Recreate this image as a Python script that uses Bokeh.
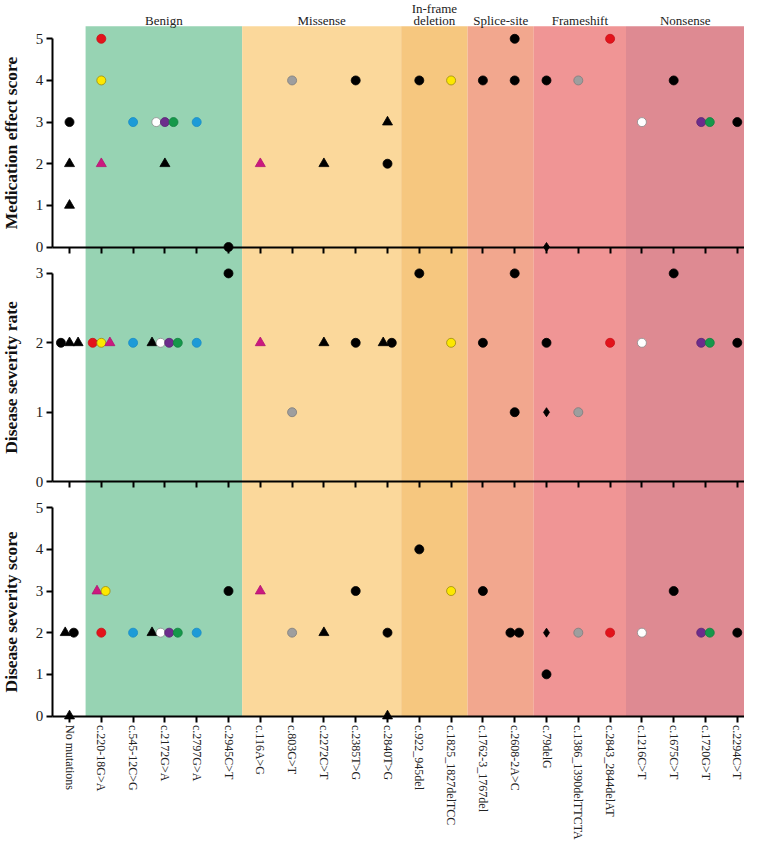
from bokeh.plotting import figure
from bokeh.models import Range1d, FixedTicker, ColumnDataSource, LinearAxis
from bokeh.embed import file_html
from bokeh.resources import INLINE
from bokeh.core.properties import value

# ---------------- data ----------------
categories = ["No mutations", "c.220-18G>A", "c.545-12C>G", "c.2172G>A", "c.2797G>A",
              "c.2945C>T", "c.116A>G", "c.803G>T", "c.2272C>T", "c.2385T>G", "c.2840T>G",
              "c.922_945del", "c.1825_1827delTCC", "c.1762-3_1767del", "c.2608-2A>C",
              "c.79delG", "c.1386_1390delTTCTA", "c.2843_2844delAT", "c.1216C>T",
              "c.1675C>T", "c.1720G>T", "c.2294C>T"]

groups = ["Benign", "Missense", "In-frame\ndeletion", "Splice-site", "Frameshift", "Nonsense"]
group_starts = [0.506, 5.43, 10.43, 12.52, 14.6, 17.5]
group_colors = ["#97d3b3", "#fbd89b", "#f6c77f", "#f2a78e", "#f09595", "#de8a92"]

panel_titles = ["Medication effect score", "Disease severity rate", "Disease severity score"]
panel_max = [5, 3, 5]

# marker: c circle, t triangle, d diamond ; colour key
# Medication effect score
med_cat  = [0, 0, 0, 1, 1, 1, 2, 3, 3, 3, 3, 4, 5, 6, 7, 8, 9, 10, 10, 11, 12, 13, 14, 14, 15, 15, 16, 17, 18, 19, 20, 20, 21]
med_val  = [3, 2, 1, 5, 4, 2, 3, 3, 3, 3, 2, 3, 0, 2, 4, 2, 4, 3, 2, 4, 4, 4, 5, 4, 4, 0, 4, 5, 3, 4, 3, 3, 3]
med_mark = ["c", "t", "t", "c", "c", "t", "c", "c", "c", "c", "t", "c", "c", "t", "c", "t", "c", "t", "c", "c", "c", "c", "c", "c", "c", "d", "c", "c", "c", "c", "c", "c", "c"]
med_col  = ["K", "K", "K", "R", "Y", "M", "B", "W", "P", "G", "K", "B", "K", "M", "A", "K", "K", "K", "K", "K", "Y", "K", "K", "K", "K", "K", "A", "R", "W", "K", "P", "G", "K"]

# Disease severity rate
rate_cat  = [0, 0, 0, 1, 1, 1, 2, 3, 3, 3, 3, 4, 5, 6, 7, 8, 9, 10, 10, 11, 12, 13, 14, 14, 15, 15, 16, 17, 18, 19, 20, 20, 21]
rate_val  = [2, 2, 2, 2, 2, 2, 2, 2, 2, 2, 2, 2, 3, 2, 1, 2, 2, 2, 2, 3, 2, 2, 3, 1, 2, 1, 1, 2, 2, 3, 2, 2, 2]
rate_mark = ["c", "t", "t", "c", "c", "t", "c", "t", "c", "c", "c", "c", "c", "t", "c", "t", "c", "t", "c", "c", "c", "c", "c", "c", "c", "d", "c", "c", "c", "c", "c", "c", "c"]
rate_col  = ["K", "K", "K", "R", "Y", "M", "B", "K", "W", "P", "G", "B", "K", "M", "A", "K", "K", "K", "K", "K", "Y", "K", "K", "K", "K", "K", "A", "R", "W", "K", "P", "G", "K"]

# Disease severity score
score_cat  = [0, 0, 0, 1, 1, 1, 2, 3, 3, 3, 3, 4, 5, 6, 7, 8, 9, 10, 10, 11, 12, 13, 14, 14, 15, 15, 16, 17, 18, 19, 20, 20, 21]
score_val  = [0, 2, 2, 3, 3, 2, 2, 2, 2, 2, 2, 2, 3, 3, 2, 2, 3, 2, 0, 4, 3, 3, 2, 2, 2, 1, 2, 2, 2, 3, 2, 2, 2]
score_mark = ["t", "t", "c", "t", "c", "c", "c", "t", "c", "c", "c", "c", "c", "t", "c", "t", "c", "c", "t", "c", "c", "c", "c", "c", "d", "c", "c", "c", "c", "c", "c", "c", "c"]
score_col  = ["K", "K", "K", "M", "Y", "R", "B", "K", "W", "P", "G", "B", "K", "M", "A", "K", "K", "K", "K", "K", "Y", "K", "K", "K", "K", "K", "A", "R", "W", "K", "P", "G", "K"]

# ---------------- styles / layout ----------------
FILL = {"K": "#000000", "R": "#e3131b", "Y": "#fde800", "B": "#1d9bd7", "W": "#ffffff",
        "P": "#6c2c8c", "G": "#15984a", "A": "#9e9e9e", "M": "#cc187f"}
EDGE = {"K": "#000000", "R": "#c81018", "Y": "#9a8a10", "B": "#1a8cc4", "W": "#8c8c8c",
        "P": "#5a2474", "G": "#118040", "A": "#7c7c7c", "M": "#b01470"}
MARKER = {"c": "circle", "t": "triangle", "d": "diamond"}
SIZE = {"c": 9, "t": 10, "d": 9}
FONT = "Liberation Serif"

W, H = 744, 840
AXIS_PX = 51.7      # pixel column of the y axes
CAT0_PX = 69.0      # pixel column of the first category
STEP_PX = 31.8      # pixels per category
X0 = -CAT0_PX / STEP_PX
X1 = (W - CAT0_PX) / STEP_PX
X_AX = -(CAT0_PX - AXIS_PX) / STEP_PX
DODGE = 0.27
group_ends = group_starts[1:] + [X1]

# pixel rows (from top of figure) of each panel's top tick and zero line
PANEL_TOP_PX = [38.3, 272.9, 507.2]
PANEL_ZERO_PX = [246.5, 481.1, 715.5]
BAND_TOP_PX = 25.7
GROUP_LABEL_PX = 19.5


def dodge(cats, vals):
    counts = {}
    for c, v in zip(cats, vals):
        counts[(c, v)] = counts.get((c, v), 0) + 1
    seen = {}
    xs = []
    for c, v in zip(cats, vals):
        n = counts[(c, v)]
        k = seen.get((c, v), 0)
        seen[(c, v)] = k + 1
        xs.append(c + (k - (n - 1) / 2) * DODGE)
    return xs


p = figure(width=W, height=H, output_backend="svg", toolbar_location=None,
           x_range=Range1d(X0, X1), y_range=Range1d(H, 0),
           x_axis_location=None, y_axis_location=None,
           min_border_left=0, min_border_right=0, min_border_top=0, min_border_bottom=0)
p.outline_line_color = None
p.xgrid.visible = False
p.ygrid.visible = False

# background bands
p.quad(left=group_starts, right=group_ends, bottom=PANEL_ZERO_PX[2], top=BAND_TOP_PX,
       fill_color=group_colors, line_color=None)

# group titles
tx, tt, toff = [], [], []
for a, b, g in zip(group_starts, group_ends, groups):
    lines = g.split("\n")
    for i, ln in enumerate(lines):
        tx.append((a + b) / 2)
        tt.append(ln)
        toff.append(-(len(lines) - 1 - i) * 12.0)
p.text(x=tx, y=[GROUP_LABEL_PX] * len(tt), text=tt, y_offset=toff, text_align="center",
       text_baseline="alphabetic", text_font=value(FONT), text_font_size="13px",
       text_color="#222222")

panel_data = [(med_cat, med_val, med_mark, med_col),
              (rate_cat, rate_val, rate_mark, rate_col),
              (score_cat, score_val, score_mark, score_col)]

for k, (cats, vals, marks, cols) in enumerate(panel_data):
    name = "panel%d" % k
    V = panel_max[k]
    T, Z = PANEL_TOP_PX[k], PANEL_ZERO_PX[k]
    ppu = (Z - T) / V
    p.extra_y_ranges[name] = Range1d(-(H - Z) / ppu, V + T / ppu)

    # x axis of this panel at y = 0
    xa = LinearAxis(y_range_name=name, fixed_location=0, bounds=(X_AX, X1))
    xa.ticker = FixedTicker(ticks=list(range(len(categories))))
    xa.major_tick_out = 6
    xa.major_tick_in = 0
    xa.minor_tick_out = 0
    xa.axis_line_width = 2
    xa.major_tick_line_width = 2
    if k == 2:
        xa.major_label_overrides = {i: c for i, c in enumerate(categories)}
        xa.major_label_orientation = "vertical"
        xa.major_label_text_font = FONT
        xa.major_label_text_font_size = "12px"
        xa.major_label_text_color = "#222222"
        xa.major_label_standoff = 3
    else:
        xa.major_label_overrides = {i: "" for i in range(len(categories))}
    p.add_layout(xa, "below")

    # y axis of this panel
    ya = LinearAxis(y_range_name=name, fixed_location=X_AX, bounds=(0, V))
    ya.ticker = FixedTicker(ticks=list(range(V + 1)))
    ya.major_tick_out = 6
    ya.major_tick_in = 0
    ya.minor_tick_out = 0
    ya.axis_line_width = 2
    ya.major_tick_line_width = 2
    ya.major_label_text_font = FONT
    ya.major_label_text_font_size = "15px"
    ya.major_label_text_color = "#222222"
    ya.major_label_standoff = 3
    ya.axis_label = panel_titles[k]
    ya.axis_label_text_font = FONT
    ya.axis_label_text_font_size = "17.5px"
    ya.axis_label_text_font_style = "bold"
    ya.axis_label_text_color = "#111111"
    ya.axis_label_standoff = 12
    p.add_layout(ya, "left")

    src = ColumnDataSource(dict(
        x=dodge(cats, vals), y=vals,
        marker=[MARKER[m] for m in marks], size=[SIZE[m] for m in marks],
        fill=[FILL[c] for c in cols], edge=[EDGE[c] for c in cols]))
    r = p.scatter("x", "y", source=src, marker="marker", size="size", y_range_name=name,
                  fill_color="fill", line_color="edge", line_width=0.8)
    r.level = "overlay"

open("out.html", "w").write(file_html(p, INLINE))
